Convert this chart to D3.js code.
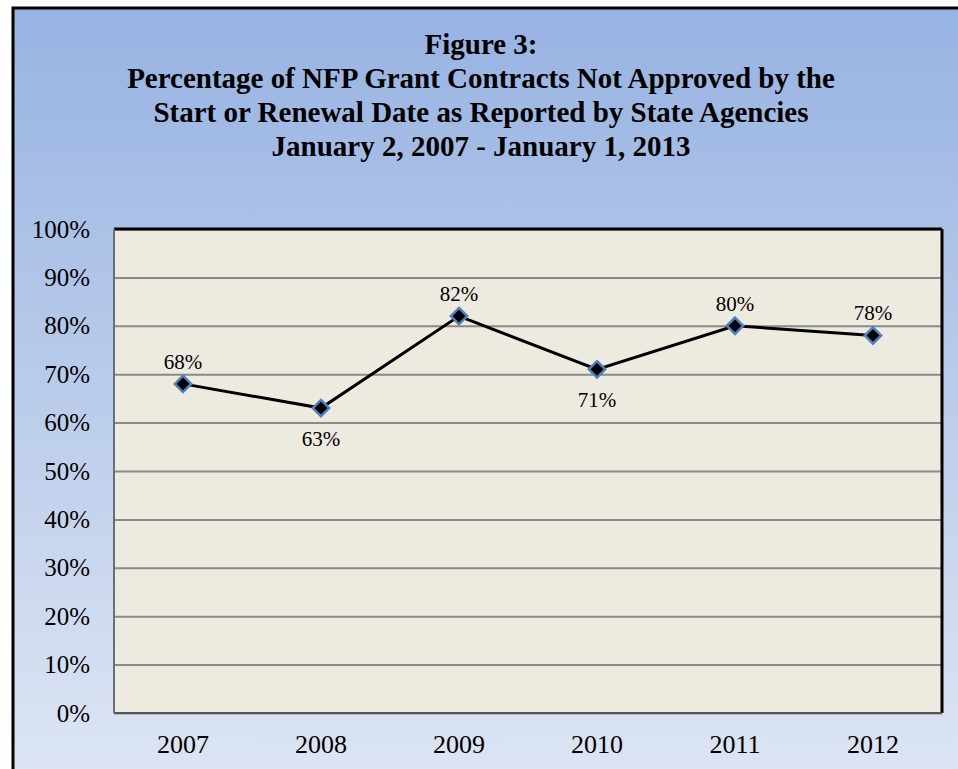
<!DOCTYPE html>
<html>
<head>
<meta charset="utf-8">
<script src="https://cdn.jsdelivr.net/npm/d3@7"></script>
<style>
  body { margin: 0; background: #fff; }
  svg { display: block; }
  text { font-family: "Liberation Serif", "Times New Roman", serif; fill: #000; }
</style>
</head>
<body>
<div id="chart"></div>
<script>
'use strict';

var years = ['2007', '2008', '2009', '2010', '2011', '2012'];
var percents = [68, 63, 82, 71, 80, 78];
// Which labels sit under their point rather than above.
var labelBelow = [false, true, false, true, false, false];
var yTicks = [0, 10, 20, 30, 40, 50, 60, 70, 80, 90, 100];
var titleLines = [
  'Figure 3:',
  'Percentage of NFP Grant Contracts Not Approved by the',
  'Start or Renewal Date as Reported by State Agencies',
  'January 2, 2007 - January 1, 2013'
];

var width = 958, height = 769;
var margin = {top: 229, bottom: 56, left: 114, right: 16};

var svg = d3.select('#chart').append('svg')
  .attr('width', width)
  .attr('height', height);

// Background gradient of the chart frame.
var defs = svg.append('defs');
var grad = defs.append('linearGradient')
  .attr('id', 'bg')
  .attr('x1', 0).attr('y1', 0).attr('x2', 0).attr('y2', 1);
grad.append('stop').attr('offset', '0%').attr('stop-color', '#97b3e2');
grad.append('stop').attr('offset', '100%').attr('stop-color', '#dde5f3');

svg.append('rect')
  .attr('x', 13).attr('y', 8)
  .attr('width', width + 10).attr('height', height)
  .attr('fill', 'url(#bg)')
  .attr('stroke', '#000')
  .attr('stroke-width', 3);

// Title.
var title = svg.append('text')
  .attr('text-anchor', 'middle')
  .style('font-weight', 'bold')
  .style('font-size', '29px');
titleLines.forEach(function(line, i) {
  title.append('tspan')
    .attr('x', 481)
    .attr('y', 54 + i * 34)
    .text(line);
});

var chartW = width - margin.left - margin.right;
var chartH = height - margin.top - margin.bottom;

var xScale = d3.scaleBand().domain(years).range([0, chartW]);
var yScale = d3.scaleLinear().domain([0, 100]).range([chartH, 0]);

var inner = svg.append('g')
  .attr('transform', 'translate(' + margin.left + ',' + margin.top + ')');

// Plot area fill.
inner.append('rect')
  .attr('width', chartW).attr('height', chartH)
  .attr('fill', '#edeae0');

// The horizontal lines.
inner.append('g')
  .call(d3.axisLeft(yScale).tickValues(yTicks).tickSize(-chartW).tickFormat(''))
  .call(function(g) {
    g.select('.domain').remove();
    g.selectAll('line').attr('stroke', '#8a8a8a').attr('stroke-width', 2);
  });

// Plot area border: dark on top and right, grey on left and bottom.
inner.append('line')
  .attr('x1', 0).attr('x2', chartW).attr('y1', 0).attr('y2', 0)
  .attr('stroke', '#000').attr('stroke-width', 3);
inner.append('line')
  .attr('x1', chartW).attr('x2', chartW).attr('y1', 0).attr('y2', chartH)
  .attr('stroke', '#000').attr('stroke-width', 3);
inner.append('line')
  .attr('x1', 0).attr('x2', 0).attr('y1', 0).attr('y2', chartH)
  .attr('stroke', '#6e6e6e').attr('stroke-width', 2);
inner.append('line')
  .attr('x1', 0).attr('x2', chartW).attr('y1', chartH).attr('y2', chartH)
  .attr('stroke', '#555').attr('stroke-width', 2);

// Y axis labels.
inner.append('g')
  .call(d3.axisLeft(yScale).tickValues(yTicks).tickSize(0).tickPadding(24)
    .tickFormat(function(d) { return d + '%'; }))
  .call(function(g) {
    g.select('.domain').remove();
    g.selectAll('text')
      .style('font-size', '25px')
      .style('font-family', '"Liberation Serif", serif')
      .attr('fill', '#000');
  });

// X axis labels.
inner.append('g')
  .attr('transform', 'translate(0,' + chartH + ')')
  .call(d3.axisBottom(xScale).tickSize(0).tickPadding(22))
  .call(function(g) {
    g.select('.domain').remove();
    g.selectAll('text')
      .style('font-size', '26px')
      .style('font-family', '"Liberation Serif", serif')
      .attr('fill', '#000');
  });

var data = years.map(function(y, i) {
  return {year: y, value: percents[i], below: labelBelow[i]};
});

var cx = function(d) { return xScale(d.year) + xScale.bandwidth() / 2; };
var cy = function(d) { return yScale(d.value); };

inner.append('path')
  .datum(data)
  .attr('fill', 'none')
  .attr('stroke', '#000')
  .attr('stroke-width', 3)
  .attr('d', d3.line().x(cx).y(cy));

inner.selectAll('.marker')
  .data(data)
  .enter()
  .append('path')
  .attr('class', 'marker')
  .attr('transform', function(d) { return 'translate(' + cx(d) + ',' + cy(d) + ')'; })
  .attr('d', d3.symbol().type(d3.symbolDiamond2).size(170))
  .attr('fill', '#000')
  .attr('stroke', '#4f81bd')
  .attr('stroke-width', 2.5);

inner.selectAll('.value-label')
  .data(data)
  .enter()
  .append('text')
  .attr('class', 'value-label')
  .attr('text-anchor', 'middle')
  .style('font-size', '21px')
  .attr('x', cx)
  .attr('y', function(d) { return d.below ? cy(d) + 38 : cy(d) - 15; })
  .text(function(d) { return d.value + '%'; });
</script>
</body>
</html>
